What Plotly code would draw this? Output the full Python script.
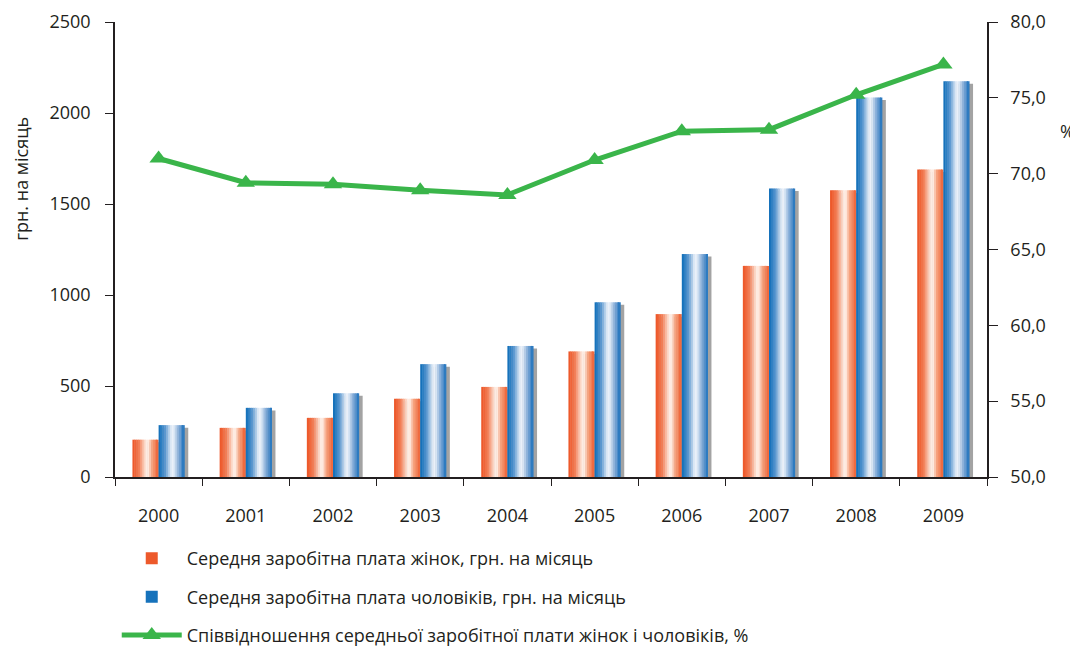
import plotly.graph_objects as go

years = ["2000", "2001", "2002", "2003", "2004", "2005", "2006", "2007", "2008", "2009"]
women = [205, 270, 325, 430, 495, 690, 895, 1160, 1575, 1690]
men = [285, 380, 460, 620, 720, 960, 1225, 1585, 2085, 2175]
ratio = [71.0, 69.4, 69.3, 68.9, 68.6, 70.9, 72.8, 72.9, 75.2, 77.2]

left_ticks = [0, 500, 1000, 1500, 2000, 2500]
right_ticks = [50, 55, 60, 65, 70, 75, 80]
right_labels = ["50,0", "55,0", "60,0", "65,0", "70,0", "75,0", "80,0"]

name_w = "Середня заробітна плата жінок, грн. на місяць"
name_m = "Середня заробітна плата чоловіків, грн. на місяць"
name_r = "Співвідношення середньої заробітної плати жінок і чоловіків, %"

x = list(range(len(years)))
BW = 0.3
N = 14

def hex2rgb(h):
    h = h.lstrip("#")
    return tuple(int(h[i:i + 2], 16) for i in (0, 2, 4))

def interp(stops, t):
    for (p0, c0), (p1, c1) in zip(stops, stops[1:]):
        if p0 <= t <= p1:
            f = (t - p0) / (p1 - p0) if p1 > p0 else 0
            a, b = hex2rgb(c0), hex2rgb(c1)
            return "rgb(%d,%d,%d)" % tuple(round(a[i] + (b[i] - a[i]) * f) for i in range(3))
    return stops[-1][1]

w_stops = [(0, "#EC5324"), (0.25, "#F27E56"), (0.5, "#FCE3D6"), (0.58, "#FFF6F0"),
           (0.75, "#F6A27E"), (1, "#EE6236")]
m_stops = [(0, "#0B6CB8"), (0.25, "#5B98D0"), (0.5, "#EEF3FA"), (0.58, "#E4EDF8"),
           (0.78, "#7EA8D6"), (1, "#1E72BC")]

fig = go.Figure()

# shadows
for vals, off in [(women, -BW), (men, 0)]:
    fig.add_trace(go.Bar(x=x, y=vals, base=-14, offset=off + 0.04, width=BW,
                         marker=dict(color="#A3A3A3", line=dict(width=0)),
                         showlegend=False, hoverinfo="skip"))

for vals, off, stops, name, grp in [(women, -BW, w_stops, name_w, "w"),
                                     (men, 0, m_stops, name_m, "m")]:
    sw = BW / N
    for i in range(N):
        t = (i + 0.5) / N
        fig.add_trace(go.Bar(
            x=x, y=vals, offset=off + i * sw, width=sw * (1.25 if i < N - 1 else 1.0),
            marker=dict(color=interp(stops, t), line=dict(width=0)),
            name=name, legendgroup=grp, showlegend=(i == 0),
            hoverinfo="skip" if i else None))

fig.add_trace(go.Scatter(
    x=x, y=ratio, yaxis="y2", mode="lines+markers", name=name_r, legendgroup="r",
    line=dict(color="#3AB54A", width=5),
    marker=dict(symbol="triangle-up", size=16, color="#3AB54A")))

font_color = "#231F20"
fig.update_layout(
    width=1070, height=638,
    margin=dict(l=107, r=91, t=14, b=169, autoexpand=False),
    paper_bgcolor="white", plot_bgcolor="white",
    barmode="overlay",
    font=dict(family="Open Sans, Noto Sans, sans-serif", size=18, color=font_color),
    xaxis=dict(range=[-0.5, 9.5], tickmode="array", tickvals=x, ticktext=years,
               ticks="", showgrid=False, zeroline=False, showline=True, automargin=False,
               linecolor=font_color, linewidth=1.5, ticklabelstandoff=22,
               minor=dict(tickmode="linear", tick0=-0.5, dtick=1, ticks="outside",
                          ticklen=7, tickcolor=font_color, tickwidth=1.2, showgrid=False)),
    yaxis=dict(range=[0, 2500], tickmode="array", tickvals=left_ticks, automargin=False,
               ticktext=[str(v) for v in left_ticks], ticks="outside", ticklen=8,
               tickcolor=font_color, tickwidth=1.2, showgrid=False, zeroline=False,
               showline=True, linecolor=font_color, linewidth=1.5, ticklabelstandoff=11),
    yaxis2=dict(range=[50, 80], overlaying="y", side="right", tickmode="array", automargin=False,
                tickvals=right_ticks, ticktext=right_labels, ticks="outside", ticklen=9,
                tickcolor=font_color, tickwidth=1.2, showgrid=False, zeroline=False,
                showline=True, linecolor=font_color, linewidth=1.5, ticklabelstandoff=9),
    legend=dict(x=0.002, y=0.166, yref="container", xanchor="left", yanchor="top",
                orientation="v", font=dict(size=18), tracegroupgap=12, itemwidth=60,
                bgcolor="rgba(0,0,0,0)", traceorder="grouped"),
    annotations=[
        dict(text="грн. на місяць", textangle=-90, xref="paper", yref="paper",
             x=-0.108, y=0.655, showarrow=False, font=dict(size=18), xanchor="center",
             yanchor="middle"),
        dict(text="%", xref="paper", yref="paper", x=1.092, y=0.76, showarrow=False,
             font=dict(size=18), xanchor="center", yanchor="middle"),
    ],
)

fig.write_html("out.html")
